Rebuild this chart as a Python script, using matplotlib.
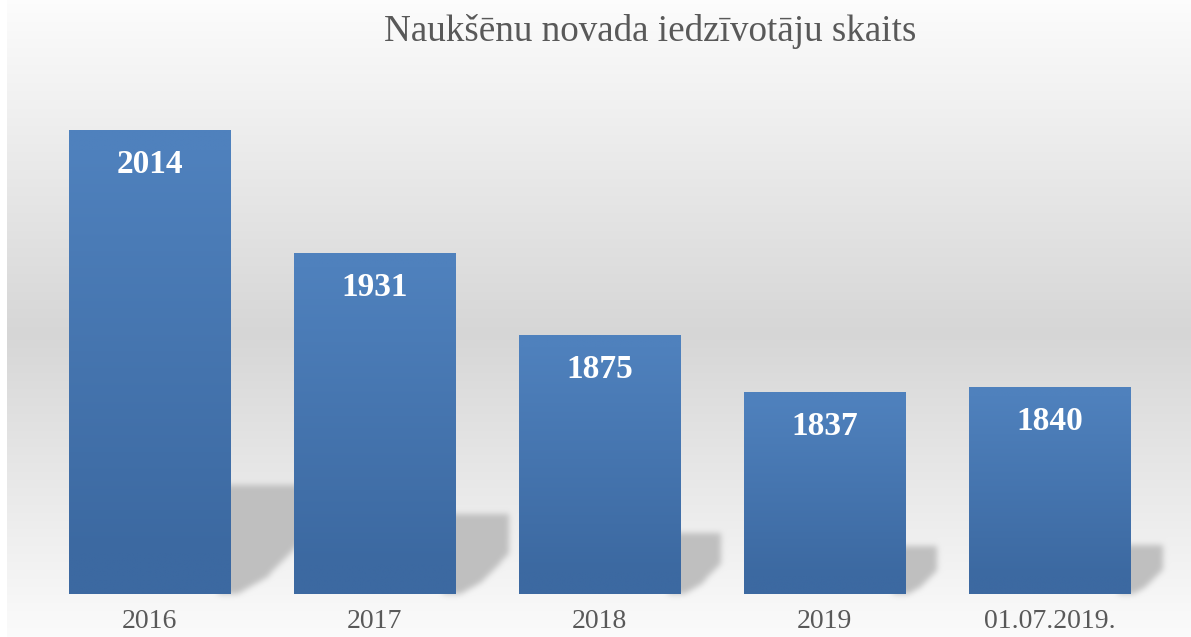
import numpy as np
import matplotlib
matplotlib.use("Agg")
import matplotlib.pyplot as plt
from matplotlib.path import Path

# ---- data ----
categories = ["2016", "2017", "2018", "2019", "01.07.2019."]
values = [2014, 1931, 1875, 1837, 1840]
title = "Naukšēnu novada iedzīvotāju skaits"

W, H = 1191, 637
DPI = 100
SERIF = ["Liberation Serif", "DejaVu Serif"]

fig = plt.figure(figsize=(W / DPI, H / DPI), dpi=DPI)
fig.patch.set_facecolor("white")

# main axes
ax = fig.add_axes([37 / W, 43 / H, 1125 / W, 517.2 / H], zorder=2)
ax.set_xlim(-0.5, len(values) - 0.5)
ax.set_ylim(1700, 2050)
ax.patch.set_alpha(0)
for s in ax.spines.values():
    s.set_visible(False)
ax.set_yticks([])

bar_w = 0.7156
x = np.arange(len(values))
bars = ax.bar(x, [v - 1700 for v in values], bottom=1700, width=bar_w,
              color="#4676b0", edgecolor="none", zorder=1.5)

# gradient fill for bars
top_c = np.array([0x4f, 0x81, 0xbd]) / 255
bot_c = np.array([0x3c, 0x69, 0xa1]) / 255
t = np.linspace(0, 1, 256)[:, None]
t2 = np.clip(t * 1.15 - 0.05, 0, 1)
grad = (top_c[None, :] * (1 - t2) + bot_c[None, :] * t2)[:, None, :]
for xi, v, b in zip(x, values, bars):
    im = ax.imshow(grad, extent=(xi - bar_w / 2, xi + bar_w / 2, 1700, v),
                   aspect="auto", origin="upper", zorder=2, interpolation="bilinear")
    im.set_clip_path(b)

ax.set_xticks(x, categories)
ax.tick_params(axis="x", length=0, pad=11, labelsize=20, labelcolor="#595959")
for lab in ax.get_xticklabels():
    lab.set_fontfamily(SERIF)

for xi, v in zip(x, values):
    ax.annotate(str(v), xy=(xi, v), xytext=(0, -31), textcoords="offset points",
                ha="center", va="baseline", fontsize=24, fontweight="bold",
                color="white", family=SERIF, zorder=3)

fig.text(650 / W, 1 - 41 / H, title, ha="center", va="baseline",
         fontsize=26.7, color="#595959", family=SERIF)

# ---- background with gradient and shadows (pixel raster) ----
rows = np.arange(H)[:, None].astype(float)
g = np.where(rows < 333, 0.99 - (0.99 - 0.84) * rows / 333,
             0.84 + (0.985 - 0.84) * (rows - 333) / (H - 333))
bg = np.repeat(g, W, axis=1)
bg[:, :7] = 1.0

# shadow mask from bar geometry
fig.canvas.draw()
mask = np.zeros((H, W))
yy, xx = np.mgrid[0:H, 0:W]
pts = np.column_stack([xx.ravel() + 0.5, yy.ravel() + 0.5])
for xi, v in zip(x, values):
    (xr, yb_d), = ax.transData.transform([(xi + bar_w / 2, 1700)])
    (_, yt_d), = ax.transData.transform([(xi + bar_w / 2, v)])
    yb = H - yb_d
    yt = H - yt_d
    hs = 0.235 * (yb - yt)
    ts = yb - hs
    w = 0.67 * hs
    poly = Path([(xr - 12, yb), (xr - 12, ts), (xr + w, ts), (xr + w, ts + 0.5 * hs),
                 (xr + 0.5 * w, ts + 0.85 * hs), (xr + 0.1 * w, yb), (xr - 12, yb)])
    m = poly.contains_points(pts).reshape(H, W)
    mask = np.maximum(mask, m.astype(float))

# gaussian blur
sig = 3.0
k = np.arange(-9, 10)
kern = np.exp(-k ** 2 / (2 * sig ** 2))
kern /= kern.sum()
mask = np.apply_along_axis(lambda r: np.convolve(r, kern, mode="same"), 1, mask)
mask = np.apply_along_axis(lambda c: np.convolve(c, kern, mode="same"), 0, mask)

shadow_c = 0.75
img = bg * (1 - mask) + shadow_c * mask
img = np.clip(img, 0, 1)

bgax = fig.add_axes([0, 0, 1, 1], zorder=0)
bgax.imshow(np.dstack([img, img, img]), extent=(0, W, H, 0), aspect="auto",
            interpolation="nearest")
bgax.set_xlim(0, W)
bgax.set_ylim(H, 0)
bgax.axis("off")

fig.savefig("out.png", dpi=DPI)
